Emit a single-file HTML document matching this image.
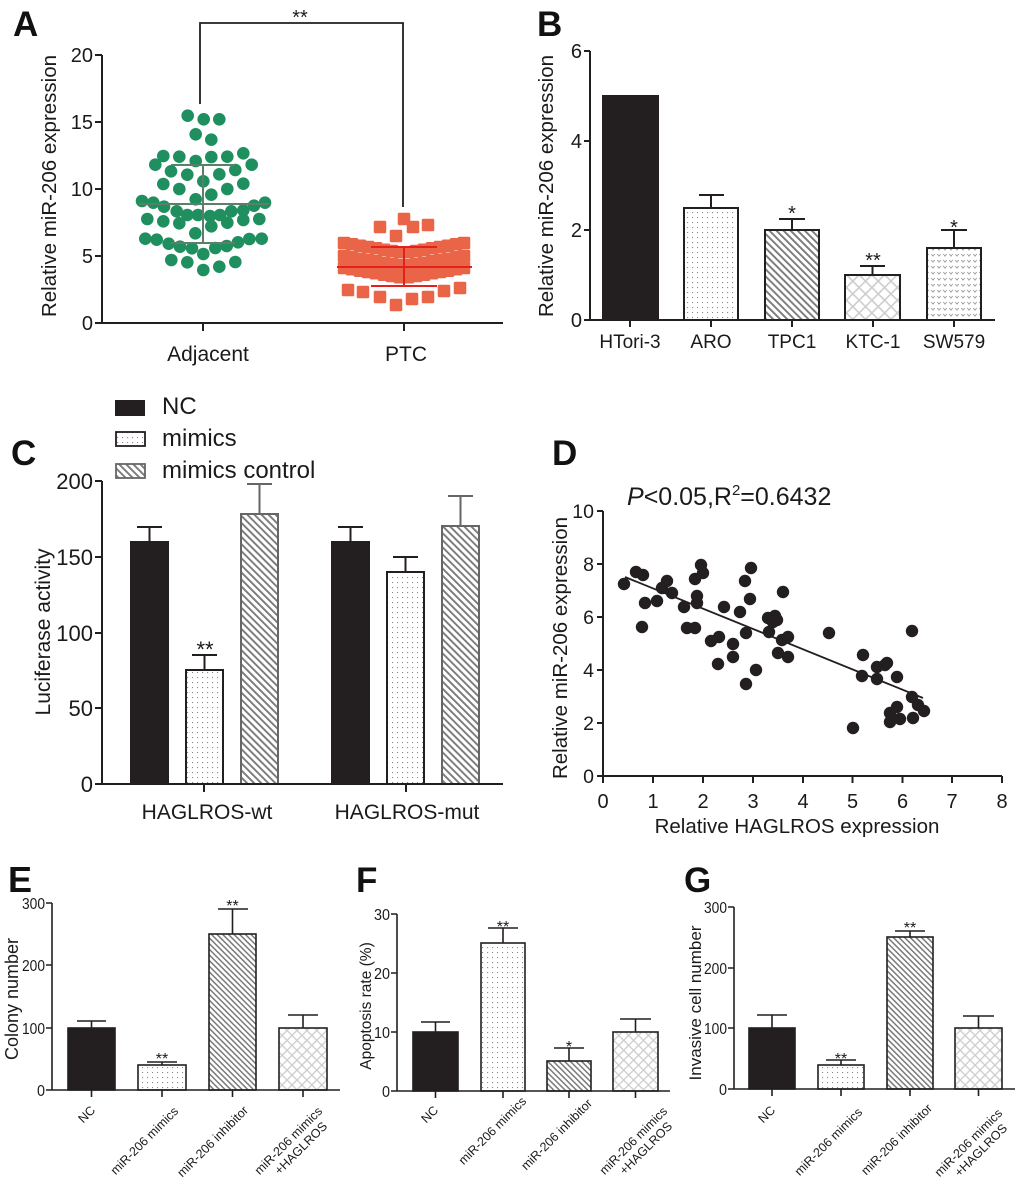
<!DOCTYPE html>
<html><head><meta charset="utf-8"><style>
html,body{margin:0;padding:0;background:#fff;}
svg{display:block;font-family:"Liberation Sans",Arial,sans-serif;}
</style></head><body>
<svg width="1020" height="1186" viewBox="0 0 1020 1186" xmlns="http://www.w3.org/2000/svg">
<defs>
<pattern id="dots" width="5" height="5" patternUnits="userSpaceOnUse"><rect width="5" height="5" fill="#fff"/><rect x="2" y="2" width="1.1" height="1.1" fill="#8a8a8a"/></pattern>
<pattern id="hatch" width="5" height="5" patternUnits="userSpaceOnUse" patternTransform="rotate(-45)"><rect width="5" height="5" fill="#fff"/><rect x="0" y="0" width="1.9" height="5" fill="#7a7a7a"/></pattern>
<pattern id="hatchs" width="4" height="4" patternUnits="userSpaceOnUse" patternTransform="rotate(-45)"><rect width="4" height="4" fill="#fff"/><rect x="0" y="0" width="1.5" height="4" fill="#7a7a7a"/></pattern>
<pattern id="cross" width="9" height="9" patternUnits="userSpaceOnUse" patternTransform="rotate(45)"><rect width="9" height="9" fill="#fff"/><rect x="0" y="0" width="1.6" height="9" fill="#cdcdcd"/><rect x="0" y="0" width="9" height="1.6" fill="#cdcdcd"/></pattern>
<pattern id="crosss" width="7" height="7" patternUnits="userSpaceOnUse" patternTransform="rotate(45)"><rect width="7" height="7" fill="#fff"/><rect x="0" y="0" width="1.3" height="7" fill="#cdcdcd"/><rect x="0" y="0" width="7" height="1.3" fill="#cdcdcd"/></pattern>
<pattern id="vee" width="6" height="6" patternUnits="userSpaceOnUse"><rect width="6" height="6" fill="#fff"/><path d="M1.3 2 L3 4.2 L4.7 2" stroke="#9a9a9a" stroke-width="0.9" fill="none"/></pattern>
</defs>

<g fill="#111">
<text x="13" y="36" font-size="35" font-weight="bold">A</text>
<text x="537" y="36" font-size="35" font-weight="bold">B</text>
<text x="11" y="465" font-size="35" font-weight="bold">C</text>
<text x="552" y="465" font-size="35" font-weight="bold">D</text>
<text x="8" y="892" font-size="36" font-weight="bold">E</text>
<text x="356" y="892" font-size="35" font-weight="bold">F</text>
<text x="684" y="892" font-size="35" font-weight="bold">G</text>
</g>

<!-- ================= Panel A ================= -->
<g stroke="#231f20" stroke-width="2" fill="none">
<path d="M102 55 V323 H503"/>
<path d="M95 55H102M95 122H102M95 189H102M95 256H102M95 323H102M203 323V331M404 323V331"/>
<path d="M200 104 V23 H403 V207" stroke-width="1.8"/>
</g>
<g font-size="20" fill="#1a1a1a" text-anchor="end">
<text x="93" y="62">20</text><text x="93" y="129">15</text><text x="93" y="196">10</text><text x="93" y="263">5</text><text x="93" y="330">0</text>
</g>
<text x="300" y="24" font-size="20" text-anchor="middle" fill="#1a1a1a">**</text>
<g font-size="21" fill="#1a1a1a" text-anchor="middle">
<text x="208" y="361">Adjacent</text><text x="406" y="361">PTC</text>
</g>
<text transform="translate(56,186) rotate(-90)" font-size="20.5" text-anchor="middle" fill="#1a1a1a">Relative miR-206 expression</text>

<g fill="#1f8f5f">
<circle cx="187.7" cy="115.7" r="6.3"/><circle cx="203.7" cy="119.3" r="6.3"/><circle cx="219.3" cy="119.3" r="6.3"/>
<circle cx="195.7" cy="134.3" r="6.3"/><circle cx="211.3" cy="139.7" r="6.3"/>
<circle cx="163.3" cy="156" r="6.3"/><circle cx="179.3" cy="156.7" r="6.3"/><circle cx="195.7" cy="161" r="6.3"/><circle cx="211.3" cy="157" r="6.3"/><circle cx="227.3" cy="156.7" r="6.3"/><circle cx="243.3" cy="153.3" r="6.3"/>
<circle cx="155.3" cy="164.7" r="6.3"/><circle cx="251.7" cy="164.7" r="6.3"/>
<circle cx="171" cy="171.3" r="6.3"/><circle cx="187.3" cy="174.7" r="6.3"/><circle cx="219.3" cy="174.3" r="6.3"/><circle cx="235.3" cy="170" r="6.3"/>
<circle cx="203.3" cy="181.3" r="6.3"/>
<circle cx="163.3" cy="184" r="6.3"/><circle cx="179.3" cy="189" r="6.3"/><circle cx="227.3" cy="189" r="6.3"/><circle cx="243.3" cy="183.7" r="6.3"/>
<circle cx="211.3" cy="194.7" r="6.3"/><circle cx="195.7" cy="199.3" r="6.3"/>
<circle cx="142" cy="201" r="6.3"/><circle cx="153.3" cy="202.7" r="6.3"/><circle cx="164" cy="206.7" r="6.3"/><circle cx="176.7" cy="211.3" r="6.3"/><circle cx="187.3" cy="215" r="6.3"/><circle cx="198" cy="215" r="6.3"/><circle cx="210" cy="216" r="6.3"/><circle cx="220" cy="215" r="6.3"/><circle cx="231.3" cy="211.3" r="6.3"/><circle cx="243.3" cy="210.3" r="6.3"/><circle cx="254" cy="205.7" r="6.3"/><circle cx="265" cy="202.7" r="6.3"/>
<circle cx="147.3" cy="219" r="6.3"/><circle cx="163.3" cy="221.3" r="6.3"/><circle cx="179.3" cy="223.3" r="6.3"/><circle cx="211.3" cy="226.3" r="6.3"/><circle cx="227.3" cy="222.7" r="6.3"/><circle cx="243.3" cy="220" r="6.3"/><circle cx="259.3" cy="219" r="6.3"/>
<circle cx="195.3" cy="233.3" r="6.3"/>
<circle cx="145.3" cy="238.7" r="6.3"/><circle cx="156.7" cy="239.7" r="6.3"/><circle cx="168.7" cy="243.7" r="6.3"/><circle cx="180" cy="246.7" r="6.3"/><circle cx="192" cy="248.3" r="6.3"/><circle cx="203.3" cy="254" r="6.3"/><circle cx="215.3" cy="248" r="6.3"/><circle cx="226.7" cy="246" r="6.3"/><circle cx="238" cy="242.3" r="6.3"/><circle cx="249.3" cy="239" r="6.3"/><circle cx="261.7" cy="238.7" r="6.3"/>
<circle cx="171.3" cy="260" r="6.3"/><circle cx="187.3" cy="262.3" r="6.3"/><circle cx="219.3" cy="266.7" r="6.3"/><circle cx="235.3" cy="262" r="6.3"/><circle cx="203.3" cy="270" r="6.3"/>
</g>
<g stroke="#5b7f69" stroke-width="2" fill="none">
<path d="M139 204 H269 M171 165 H235 M171 243 H235 M203 165 V243"/>
</g>

<g fill="#ea6547">
<rect x="373.75" y="220.75" width="12.5" height="12.5" rx="1.5"/><rect x="397.75" y="212.75" width="12.5" height="12.5" rx="1.5"/><rect x="406.75" y="220.75" width="12.5" height="12.5" rx="1.5"/><rect x="421.75" y="218.75" width="12.5" height="12.5" rx="1.5"/><rect x="389.75" y="229.75" width="12.5" height="12.5" rx="1.5"/>
<rect x="337.75" y="236.75" width="12.5" height="12.5" rx="1.5"/><rect x="345.75" y="238.05" width="12.5" height="12.5" rx="1.5"/><rect x="353.75" y="239.45" width="12.5" height="12.5" rx="1.5"/><rect x="361.75" y="240.75" width="12.5" height="12.5" rx="1.5"/><rect x="369.75" y="242.05" width="12.5" height="12.5" rx="1.5"/><rect x="377.75" y="243.45" width="12.5" height="12.5" rx="1.5"/><rect x="385.75" y="244.75" width="12.5" height="12.5" rx="1.5"/><rect x="393.75" y="246.05" width="12.5" height="12.5" rx="1.5"/><rect x="401.75" y="246.05" width="12.5" height="12.5" rx="1.5"/><rect x="409.75" y="244.75" width="12.5" height="12.5" rx="1.5"/><rect x="417.75" y="243.45" width="12.5" height="12.5" rx="1.5"/><rect x="425.75" y="242.05" width="12.5" height="12.5" rx="1.5"/><rect x="433.75" y="240.75" width="12.5" height="12.5" rx="1.5"/><rect x="441.75" y="239.45" width="12.5" height="12.5" rx="1.5"/><rect x="449.75" y="238.05" width="12.5" height="12.5" rx="1.5"/><rect x="457.75" y="236.75" width="12.5" height="12.5" rx="1.5"/>
<rect x="337.75" y="249.75" width="12.5" height="12.5" rx="1.5"/><rect x="345.75" y="251.05" width="12.5" height="12.5" rx="1.5"/><rect x="353.75" y="252.45" width="12.5" height="12.5" rx="1.5"/><rect x="361.75" y="253.75" width="12.5" height="12.5" rx="1.5"/><rect x="369.75" y="255.05" width="12.5" height="12.5" rx="1.5"/><rect x="377.75" y="256.45" width="12.5" height="12.5" rx="1.5"/><rect x="385.75" y="257.75" width="12.5" height="12.5" rx="1.5"/><rect x="393.75" y="259.05" width="12.5" height="12.5" rx="1.5"/><rect x="401.75" y="259.05" width="12.5" height="12.5" rx="1.5"/><rect x="409.75" y="257.75" width="12.5" height="12.5" rx="1.5"/><rect x="417.75" y="256.45" width="12.5" height="12.5" rx="1.5"/><rect x="425.75" y="255.05" width="12.5" height="12.5" rx="1.5"/><rect x="433.75" y="253.75" width="12.5" height="12.5" rx="1.5"/><rect x="441.75" y="252.45" width="12.5" height="12.5" rx="1.5"/><rect x="449.75" y="251.05" width="12.5" height="12.5" rx="1.5"/><rect x="457.75" y="249.75" width="12.5" height="12.5" rx="1.5"/>
<rect x="337.75" y="261.75" width="12.5" height="12.5" rx="1.5"/><rect x="345.75" y="263.05" width="12.5" height="12.5" rx="1.5"/><rect x="353.75" y="264.45" width="12.5" height="12.5" rx="1.5"/><rect x="361.75" y="265.75" width="12.5" height="12.5" rx="1.5"/><rect x="369.75" y="267.05" width="12.5" height="12.5" rx="1.5"/><rect x="377.75" y="268.45" width="12.5" height="12.5" rx="1.5"/><rect x="385.75" y="269.75" width="12.5" height="12.5" rx="1.5"/><rect x="393.75" y="271.05" width="12.5" height="12.5" rx="1.5"/><rect x="401.75" y="271.05" width="12.5" height="12.5" rx="1.5"/><rect x="409.75" y="269.75" width="12.5" height="12.5" rx="1.5"/><rect x="417.75" y="268.45" width="12.5" height="12.5" rx="1.5"/><rect x="425.75" y="267.05" width="12.5" height="12.5" rx="1.5"/><rect x="433.75" y="265.75" width="12.5" height="12.5" rx="1.5"/><rect x="441.75" y="264.45" width="12.5" height="12.5" rx="1.5"/><rect x="449.75" y="263.05" width="12.5" height="12.5" rx="1.5"/><rect x="457.75" y="261.75" width="12.5" height="12.5" rx="1.5"/>
<rect x="341.75" y="283.75" width="12.5" height="12.5" rx="1.5"/><rect x="356.75" y="285.75" width="12.5" height="12.5" rx="1.5"/><rect x="373.75" y="290.75" width="12.5" height="12.5" rx="1.5"/><rect x="389.75" y="298.75" width="12.5" height="12.5" rx="1.5"/><rect x="405.75" y="292.75" width="12.5" height="12.5" rx="1.5"/><rect x="421.75" y="290.75" width="12.5" height="12.5" rx="1.5"/><rect x="437.75" y="284.75" width="12.5" height="12.5" rx="1.5"/><rect x="453.75" y="281.75" width="12.5" height="12.5" rx="1.5"/>
</g>
<g stroke="#e3201b" stroke-width="2" fill="none">
<path d="M337 267 H472 M371 247 H437 M371 286 H437 M404 247 V286"/>
</g>

<!-- ================= Panel B ================= -->
<g stroke="#231f20" stroke-width="2">
<rect x="603" y="96" width="55" height="224" fill="#231f20"/>
<rect x="684" y="208" width="54" height="112" fill="url(#dots)"/>
<rect x="765" y="230" width="54" height="90" fill="url(#hatch)"/>
<rect x="845" y="275" width="55" height="45" fill="url(#cross)"/>
<rect x="927" y="248" width="54" height="72" fill="url(#vee)"/>
<path fill="none" d="M711 208 V195 M699 195 H724 M792 230 V219 M779 219 H805 M872.5 275 V266 M860 266 H885 M954 248 V230 M941 230 H967"/>
<path fill="none" d="M590 51 V320 H995 M584 51H590 M584 141H590 M584 230H590 M584 320H590 M630 320V327 M711 320V327 M792 320V327 M873 320V327 M954 320V327"/>
</g>
<g font-size="20" fill="#1a1a1a" text-anchor="end">
<text x="582" y="58">6</text><text x="582" y="148">4</text><text x="582" y="237">2</text><text x="582" y="327">0</text>
</g>
<g font-size="20" fill="#1a1a1a" text-anchor="middle">
<text x="792" y="220">*</text><text x="873" y="267">**</text><text x="954" y="234">*</text>
</g>
<g font-size="19" fill="#1a1a1a" text-anchor="middle">
<text x="630" y="348">HTori-3</text><text x="711" y="348">ARO</text><text x="792" y="348">TPC1</text><text x="873" y="348">KTC-1</text><text x="954" y="348">SW579</text>
</g>
<text transform="translate(553,186) rotate(-90)" font-size="20.5" text-anchor="middle" fill="#1a1a1a">Relative miR-206 expression</text>

<!-- ================= Panel C ================= -->
<rect x="115" y="400" width="30" height="16" fill="#231f20"/>
<rect x="116" y="432" width="29" height="14" fill="url(#dots)" stroke="#231f20" stroke-width="1.8"/>
<rect x="116" y="464" width="29" height="14" fill="url(#hatch)" stroke="#666" stroke-width="1.8"/>
<g font-size="24" fill="#1a1a1a">
<text x="162" y="414">NC</text><text x="162" y="446">mimics</text><text x="162" y="478">mimics control</text>
</g>
<g stroke="#231f20" stroke-width="2">
<rect x="131" y="542" width="37" height="242" fill="#231f20"/>
<rect x="186" y="670" width="37" height="114" fill="url(#dots)"/>
<rect x="332" y="542" width="37" height="242" fill="#231f20"/>
<rect x="387" y="572" width="37" height="212" fill="url(#dots)"/>
<path fill="none" d="M149.5 542 V527 M137 527 H162 M204.5 670 V655 M192 655 H217 M350.5 542 V527 M338 527 H363 M405.5 572 V557 M393 557 H418"/>
</g>
<g stroke="#666" stroke-width="2">
<rect x="241" y="514" width="37" height="270" fill="url(#hatch)"/>
<rect x="442" y="526" width="37" height="258" fill="url(#hatch)"/>
<path fill="none" d="M259.5 514 V484 M247 484 H272 M460.5 526 V496 M448 496 H473"/>
</g>
<g stroke="#231f20" stroke-width="2" fill="none">
<path d="M102 481 V784 H503 M95 481H102 M95 557H102 M95 633H102 M95 708H102 M95 784H102 M204 784V792 M406 784V792"/>
</g>
<g font-size="22" fill="#1a1a1a" text-anchor="end">
<text x="93" y="489">200</text><text x="93" y="565">150</text><text x="93" y="641">100</text><text x="93" y="716">50</text><text x="93" y="792">0</text>
</g>
<text x="205" y="657" font-size="22" text-anchor="middle" fill="#1a1a1a">**</text>
<g font-size="21" fill="#1a1a1a" text-anchor="middle">
<text x="207" y="819">HAGLROS-wt</text><text x="407" y="819">HAGLROS-mut</text>
</g>
<text transform="translate(50,632) rotate(-90)" font-size="21" text-anchor="middle" fill="#1a1a1a">Luciferase activity</text>

<!-- ================= Panel D ================= -->
<text x="627" y="505" font-size="25" fill="#1a1a1a"><tspan font-style="italic">P</tspan>&lt;0.05,R<tspan font-size="15" dy="-10">2</tspan><tspan dy="10">=0.6432</tspan></text>
<g stroke="#231f20" stroke-width="2" fill="none">
<path d="M603 511 V776 H1002 M597 511H603 M597 564H603 M597 617H603 M597 670H603 M597 723H603 M597 776H603"/>
<path d="M603 776V783 M653 776V783 M703 776V783 M753 776V783 M803 776V783 M852.5 776V783 M902.5 776V783 M952 776V783 M1002 776V783"/>
<path d="M625 577 L923 698" stroke-width="1.8"/>
</g>
<g font-size="19.5" fill="#1a1a1a" text-anchor="end">
<text x="594" y="518">10</text><text x="594" y="571">8</text><text x="594" y="624">6</text><text x="594" y="677">4</text><text x="594" y="730">2</text><text x="594" y="783">0</text>
</g>
<g font-size="20" fill="#1a1a1a" text-anchor="middle">
<text x="603" y="808">0</text><text x="653" y="808">1</text><text x="703" y="808">2</text><text x="753" y="808">3</text><text x="803" y="808">4</text><text x="852.5" y="808">5</text><text x="902.5" y="808">6</text><text x="952" y="808">7</text><text x="1002" y="808">8</text>
</g>
<text x="797" y="833" font-size="20.5" text-anchor="middle" fill="#1a1a1a">Relative HAGLROS expression</text>
<text transform="translate(567,648) rotate(-90)" font-size="20.5" text-anchor="middle" fill="#1a1a1a">Relative miR-206 expression</text>
<g fill="#231f20">
<circle cx="624" cy="584" r="6.2"/><circle cx="636" cy="572" r="6.2"/><circle cx="643" cy="575" r="6.2"/><circle cx="645" cy="603" r="6.2"/><circle cx="642" cy="627" r="6.2"/>
<circle cx="657" cy="601" r="6.2"/><circle cx="662" cy="588" r="6.2"/><circle cx="667" cy="581" r="6.2"/><circle cx="672" cy="593" r="6.2"/><circle cx="684" cy="607" r="6.2"/>
<circle cx="687" cy="628" r="6.2"/><circle cx="695" cy="628" r="6.2"/><circle cx="695" cy="579" r="6.2"/><circle cx="697" cy="596" r="6.2"/><circle cx="697" cy="603" r="6.2"/>
<circle cx="701" cy="565" r="6.2"/><circle cx="703" cy="573" r="6.2"/><circle cx="711" cy="641" r="6.2"/><circle cx="719" cy="637" r="6.2"/><circle cx="718" cy="664" r="6.2"/>
<circle cx="724" cy="607" r="6.2"/><circle cx="733" cy="644" r="6.2"/><circle cx="733" cy="657" r="6.2"/><circle cx="740" cy="612" r="6.2"/><circle cx="745" cy="581" r="6.2"/>
<circle cx="746" cy="633" r="6.2"/><circle cx="746" cy="684" r="6.2"/><circle cx="750" cy="599" r="6.2"/><circle cx="751" cy="568" r="6.2"/><circle cx="756" cy="670" r="6.2"/>
<circle cx="768" cy="618" r="6.2"/><circle cx="769" cy="632" r="6.2"/><circle cx="775" cy="616" r="6.2"/><circle cx="777" cy="620" r="6.2"/><circle cx="773" cy="622" r="6.2"/>
<circle cx="778" cy="653" r="6.2"/><circle cx="783" cy="592" r="6.2"/><circle cx="782" cy="640" r="6.2"/><circle cx="788" cy="637" r="6.2"/><circle cx="788" cy="657" r="6.2"/>
<circle cx="829" cy="633" r="6.2"/><circle cx="863" cy="655" r="6.2"/><circle cx="862" cy="676" r="6.2"/><circle cx="853" cy="728" r="6.2"/><circle cx="877" cy="667" r="6.2"/>
<circle cx="885" cy="665" r="6.2"/><circle cx="887" cy="663" r="6.2"/><circle cx="877" cy="679" r="6.2"/><circle cx="897" cy="677" r="6.2"/><circle cx="912" cy="631" r="6.2"/>
<circle cx="912" cy="697" r="6.2"/><circle cx="890" cy="713" r="6.2"/><circle cx="897" cy="707" r="6.2"/><circle cx="890" cy="722" r="6.2"/><circle cx="900" cy="719" r="6.2"/>
<circle cx="913" cy="718" r="6.2"/><circle cx="918" cy="705" r="6.2"/><circle cx="924" cy="711" r="6.2"/>
</g>

<!-- ================= Panel E ================= -->
<g stroke="#231f20" stroke-width="1.6">
<rect x="68" y="1028" width="47" height="62" fill="#231f20"/>
<rect x="138" y="1065" width="48" height="25" fill="url(#dots)"/>
<rect x="209" y="934" width="47" height="156" fill="url(#hatchs)"/>
<rect x="279" y="1028" width="48" height="62" fill="url(#crosss)"/>
<path fill="none" d="M91.5 1028 V1021 M77 1021 H106 M162 1065 V1062 M147 1062 H177 M232.5 934 V909 M218 909 H248 M303 1028 V1015 M288 1015 H318"/>
<path fill="none" d="M52 903 V1090 H340 M46 903H52 M46 965H52 M46 1028H52 M46 1090H52 M91.5 1090V1097 M162 1090V1097 M232.5 1090V1097 M303 1090V1097"/>
</g>
<g font-size="16" fill="#1a1a1a" text-anchor="end">
<text x="45" y="909" textLength="23" lengthAdjust="spacingAndGlyphs">300</text>
<text x="45" y="971" textLength="23" lengthAdjust="spacingAndGlyphs">200</text>
<text x="45" y="1034" textLength="23" lengthAdjust="spacingAndGlyphs">100</text>
<text x="45" y="1096" textLength="8" lengthAdjust="spacingAndGlyphs">0</text>
</g>
<g font-size="16" fill="#1a1a1a" text-anchor="middle">
<text x="162" y="1064">**</text><text x="232.5" y="911">**</text>
</g>
<text transform="translate(18,999) rotate(-90)" font-size="18" text-anchor="middle" fill="#1a1a1a">Colony number</text>
<g font-size="12.5" fill="#1a1a1a" text-anchor="end">
<text transform="translate(96,1111) rotate(-45)">NC</text>
<text transform="translate(179,1112) rotate(-45)">miR-206 mimics</text>
<text transform="translate(249,1111) rotate(-45)">miR-206 inhibitor</text>
<text transform="translate(323,1112) rotate(-45)">miR-206 mimics</text>
<text transform="translate(328,1127) rotate(-45)">+HAGLROS</text>
</g>

<!-- ================= Panel F ================= -->
<g stroke="#231f20" stroke-width="1.6">
<rect x="413" y="1032" width="45" height="59" fill="#231f20"/>
<rect x="481" y="943" width="44" height="148" fill="url(#dots)"/>
<rect x="547" y="1061" width="44" height="30" fill="url(#hatchs)"/>
<rect x="613" y="1032" width="45" height="59" fill="url(#crosss)"/>
<path fill="none" d="M435.5 1032 V1022 M421 1022 H450 M503 943 V928 M488 928 H518 M569 1061 V1048 M554 1048 H584 M635.5 1032 V1019 M620 1019 H651"/>
<path fill="none" d="M397 914 V1091 H670 M391 914H397 M391 973H397 M391 1032H397 M391 1091H397 M435.5 1091V1098 M503 1091V1098 M569 1091V1098 M635.5 1091V1098"/>
</g>
<g font-size="16" fill="#1a1a1a" text-anchor="end">
<text x="390" y="920" textLength="16" lengthAdjust="spacingAndGlyphs">30</text>
<text x="390" y="979" textLength="16" lengthAdjust="spacingAndGlyphs">20</text>
<text x="390" y="1038" textLength="16" lengthAdjust="spacingAndGlyphs">10</text>
<text x="390" y="1097" textLength="8" lengthAdjust="spacingAndGlyphs">0</text>
</g>
<g font-size="16" fill="#1a1a1a" text-anchor="middle">
<text x="503" y="932">**</text><text x="569" y="1052">*</text>
</g>
<text transform="translate(371,1006) rotate(-90)" font-size="15.5" text-anchor="middle" fill="#1a1a1a">Apoptosis rate (%)</text>
<g font-size="12.5" fill="#1a1a1a" text-anchor="end">
<text transform="translate(439,1111) rotate(-45)">NC</text>
<text transform="translate(527,1102) rotate(-45)">miR-206 mimics</text>
<text transform="translate(593,1104) rotate(-45)">miR-206 inhibitor</text>
<text transform="translate(668,1112) rotate(-45)">miR-206 mimics</text>
<text transform="translate(673,1127) rotate(-45)">+HAGLROS</text>
</g>

<!-- ================= Panel G ================= -->
<g stroke="#231f20" stroke-width="1.6">
<rect x="749" y="1028" width="46" height="61" fill="#231f20"/>
<rect x="818" y="1065" width="46" height="24" fill="url(#dots)"/>
<rect x="887" y="937" width="46" height="152" fill="url(#hatchs)"/>
<rect x="955" y="1028" width="47" height="61" fill="url(#crosss)"/>
<path fill="none" d="M772 1028 V1015 M757 1015 H787 M841 1065 V1060 M826 1060 H856 M910 937 V931 M895 931 H925 M978.5 1028 V1016 M963 1016 H994"/>
<path fill="none" d="M734 907 V1089 H1015 M728 907H734 M728 968H734 M728 1028H734 M728 1089H734 M772 1089V1096 M841 1089V1096 M910 1089V1096 M978.5 1089V1096"/>
</g>
<g font-size="16" fill="#1a1a1a" text-anchor="end">
<text x="727" y="913" textLength="23" lengthAdjust="spacingAndGlyphs">300</text>
<text x="727" y="974" textLength="23" lengthAdjust="spacingAndGlyphs">200</text>
<text x="727" y="1034" textLength="23" lengthAdjust="spacingAndGlyphs">100</text>
<text x="727" y="1095" textLength="8" lengthAdjust="spacingAndGlyphs">0</text>
</g>
<g font-size="16" fill="#1a1a1a" text-anchor="middle">
<text x="841" y="1064">**</text><text x="910" y="933">**</text>
</g>
<text transform="translate(701,1003) rotate(-90)" font-size="17" text-anchor="middle" fill="#1a1a1a">Invasive cell number</text>
<g font-size="12.5" fill="#1a1a1a" text-anchor="end">
<text transform="translate(776,1111) rotate(-45)">NC</text>
<text transform="translate(863,1113) rotate(-45)">miR-206 mimics</text>
<text transform="translate(933,1109) rotate(-45)">miR-206 inhibitor</text>
<text transform="translate(1003,1114) rotate(-45)">miR-206 mimics</text>
<text transform="translate(1008,1129) rotate(-45)">+HAGLROS</text>
</g>
</svg>
</body></html>
